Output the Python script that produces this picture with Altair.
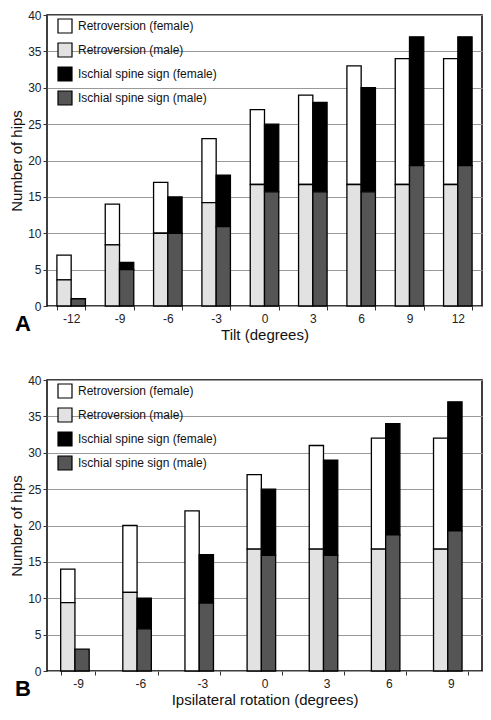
import altair as alt
import pandas as pd

# ---- Panel A: Tilt ----
tilt_cats = ["-12", "-9", "-6", "-3", "0", "3", "6", "9", "12"]
tilt_retro_total = [7, 14, 17, 23, 27, 29, 33, 34, 34]
tilt_retro_male = [3.6, 8.4, 10, 14.2, 16.7, 16.7, 16.7, 16.7, 16.7]
tilt_isch_total = [1, 6, 15, 18, 25, 28, 30, 37, 37]
tilt_isch_male = [1, 5, 10, 10.9, 15.7, 15.7, 15.7, 19.3, 19.3]

# ---- Panel B: Ipsilateral rotation ----
rot_cats = ["-9", "-6", "-3", "0", "3", "6", "9"]
rot_retro_total = [14, 20, 22, 27, 31, 32, 32]
rot_retro_male = [9.4, 10.8, 0, 16.75, 16.75, 16.75, 16.75]
rot_isch_total = [3, 10, 16, 25, 29, 34, 37]
rot_isch_male = [3, 5.8, 9.35, 15.9, 15.9, 18.7, 19.26]

panel_letters = ["A", "B"]

series_order = [
    "Retroversion (female)",
    "Retroversion (male)",
    "Ischial spine sign (female)",
    "Ischial spine sign (male)",
]
series_colors = ["#ffffff", "#e2e2e2", "#000000", "#555555"]
groups = ["Retroversion", "Ischial"]

FONT = "Liberation Sans"
W, H = 435, 291


def build_df(cats, rt, rm, it, im):
    rows = []
    for c, a, b, d, e in zip(cats, rt, rm, it, im):
        rows.append(dict(cat=c, grp="Retroversion", series="Retroversion (male)", y0=0, y1=b, o=1))
        rows.append(dict(cat=c, grp="Retroversion", series="Retroversion (female)", y0=b, y1=a, o=0))
        rows.append(dict(cat=c, grp="Ischial", series="Ischial spine sign (male)", y0=0, y1=e, o=3))
        rows.append(dict(cat=c, grp="Ischial", series="Ischial spine sign (female)", y0=e, y1=d, o=2))
    df = pd.DataFrame(rows)
    return df[df.y1 > df.y0]


def panel(df, cats, xtitle, letter, pad_inner):
    bars = (
        alt.Chart(df)
        .mark_bar(stroke="black", strokeWidth=1.3)
        .encode(
            x=alt.X(
                "cat:N",
                sort=cats,
                scale=alt.Scale(paddingInner=pad_inner, paddingOuter=pad_inner / 2),
                axis=alt.Axis(
                    title=xtitle,
                    labelAngle=0,
                    tickBand="extent",
                    grid=False,
                    domain=False,
                    tickSize=4,
                    labelPadding=3,
                    titlePadding=3,
                ),
            ),
            xOffset=alt.XOffset("grp:N", sort=groups, scale=alt.Scale(domain=groups, paddingInner=0)),
            y=alt.Y(
                "y0:Q",
                scale=alt.Scale(domain=[0, 40], nice=False),
                axis=alt.Axis(
                    title="Number of hips",
                    values=list(range(0, 41, 5)),
                    grid=True,
                    domain=False,
                    tickSize=4,
                    labelPadding=2,
                    titlePadding=3,
                ),
            ),
            y2="y1:Q",
            color=alt.Color(
                "series:N",
                scale=alt.Scale(domain=series_order, range=series_colors),
                legend=alt.Legend(
                    title=None,
                    orient="none",
                    legendX=10,
                    legendY=3,
                    symbolType="square",
                    symbolSize=196,
                    symbolStrokeColor="black",
                    symbolStrokeWidth=1.2,
                    labelFontSize=12,
                    labelFont=FONT,
                    labelColor="#111",
                    rowPadding=4,
                    labelOffset=5,
                    labelLimit=300,
                ),
            ),
            order=alt.Order("o:Q"),
        )
    )
    tag = (
        alt.Chart(pd.DataFrame({"letter": [letter]}))
        .mark_text(font=FONT, fontSize=22, fontWeight="bold", align="left", baseline="middle")
        .encode(text="letter:N", x=alt.value(-32), y=alt.value(H + 18))
    )
    return alt.layer(bars, tag).properties(width=W, height=H)


dfA = build_df(tilt_cats, tilt_retro_total, tilt_retro_male, tilt_isch_total, tilt_isch_male)
dfB = build_df(rot_cats, rot_retro_total, rot_retro_male, rot_isch_total, rot_isch_male)

chartA = panel(dfA, tilt_cats, "Tilt (degrees)", panel_letters[0], 0.41)
chartB = panel(dfB, rot_cats, "Ipsilateral rotation (degrees)", panel_letters[1], 0.44)

chart = (
    alt.vconcat(chartA, chartB, spacing=30)
    .resolve_scale(color="independent", x="independent")
    .properties(padding={"left": 0, "top": 0, "right": 0, "bottom": 0})
    .configure_view(stroke="black", strokeWidth=1.5)
    .configure_axis(
        labelFont=FONT,
        titleFont=FONT,
        labelFontSize=12,
        titleFontSize=15,
        titleFontWeight="normal",
        labelColor="#222",
        titleColor="#111",
        tickColor="#333",
        gridColor="#999",
        gridWidth=1,
    )
)

chart.save("out.html", embed_options={"renderer": "svg", "actions": False})
